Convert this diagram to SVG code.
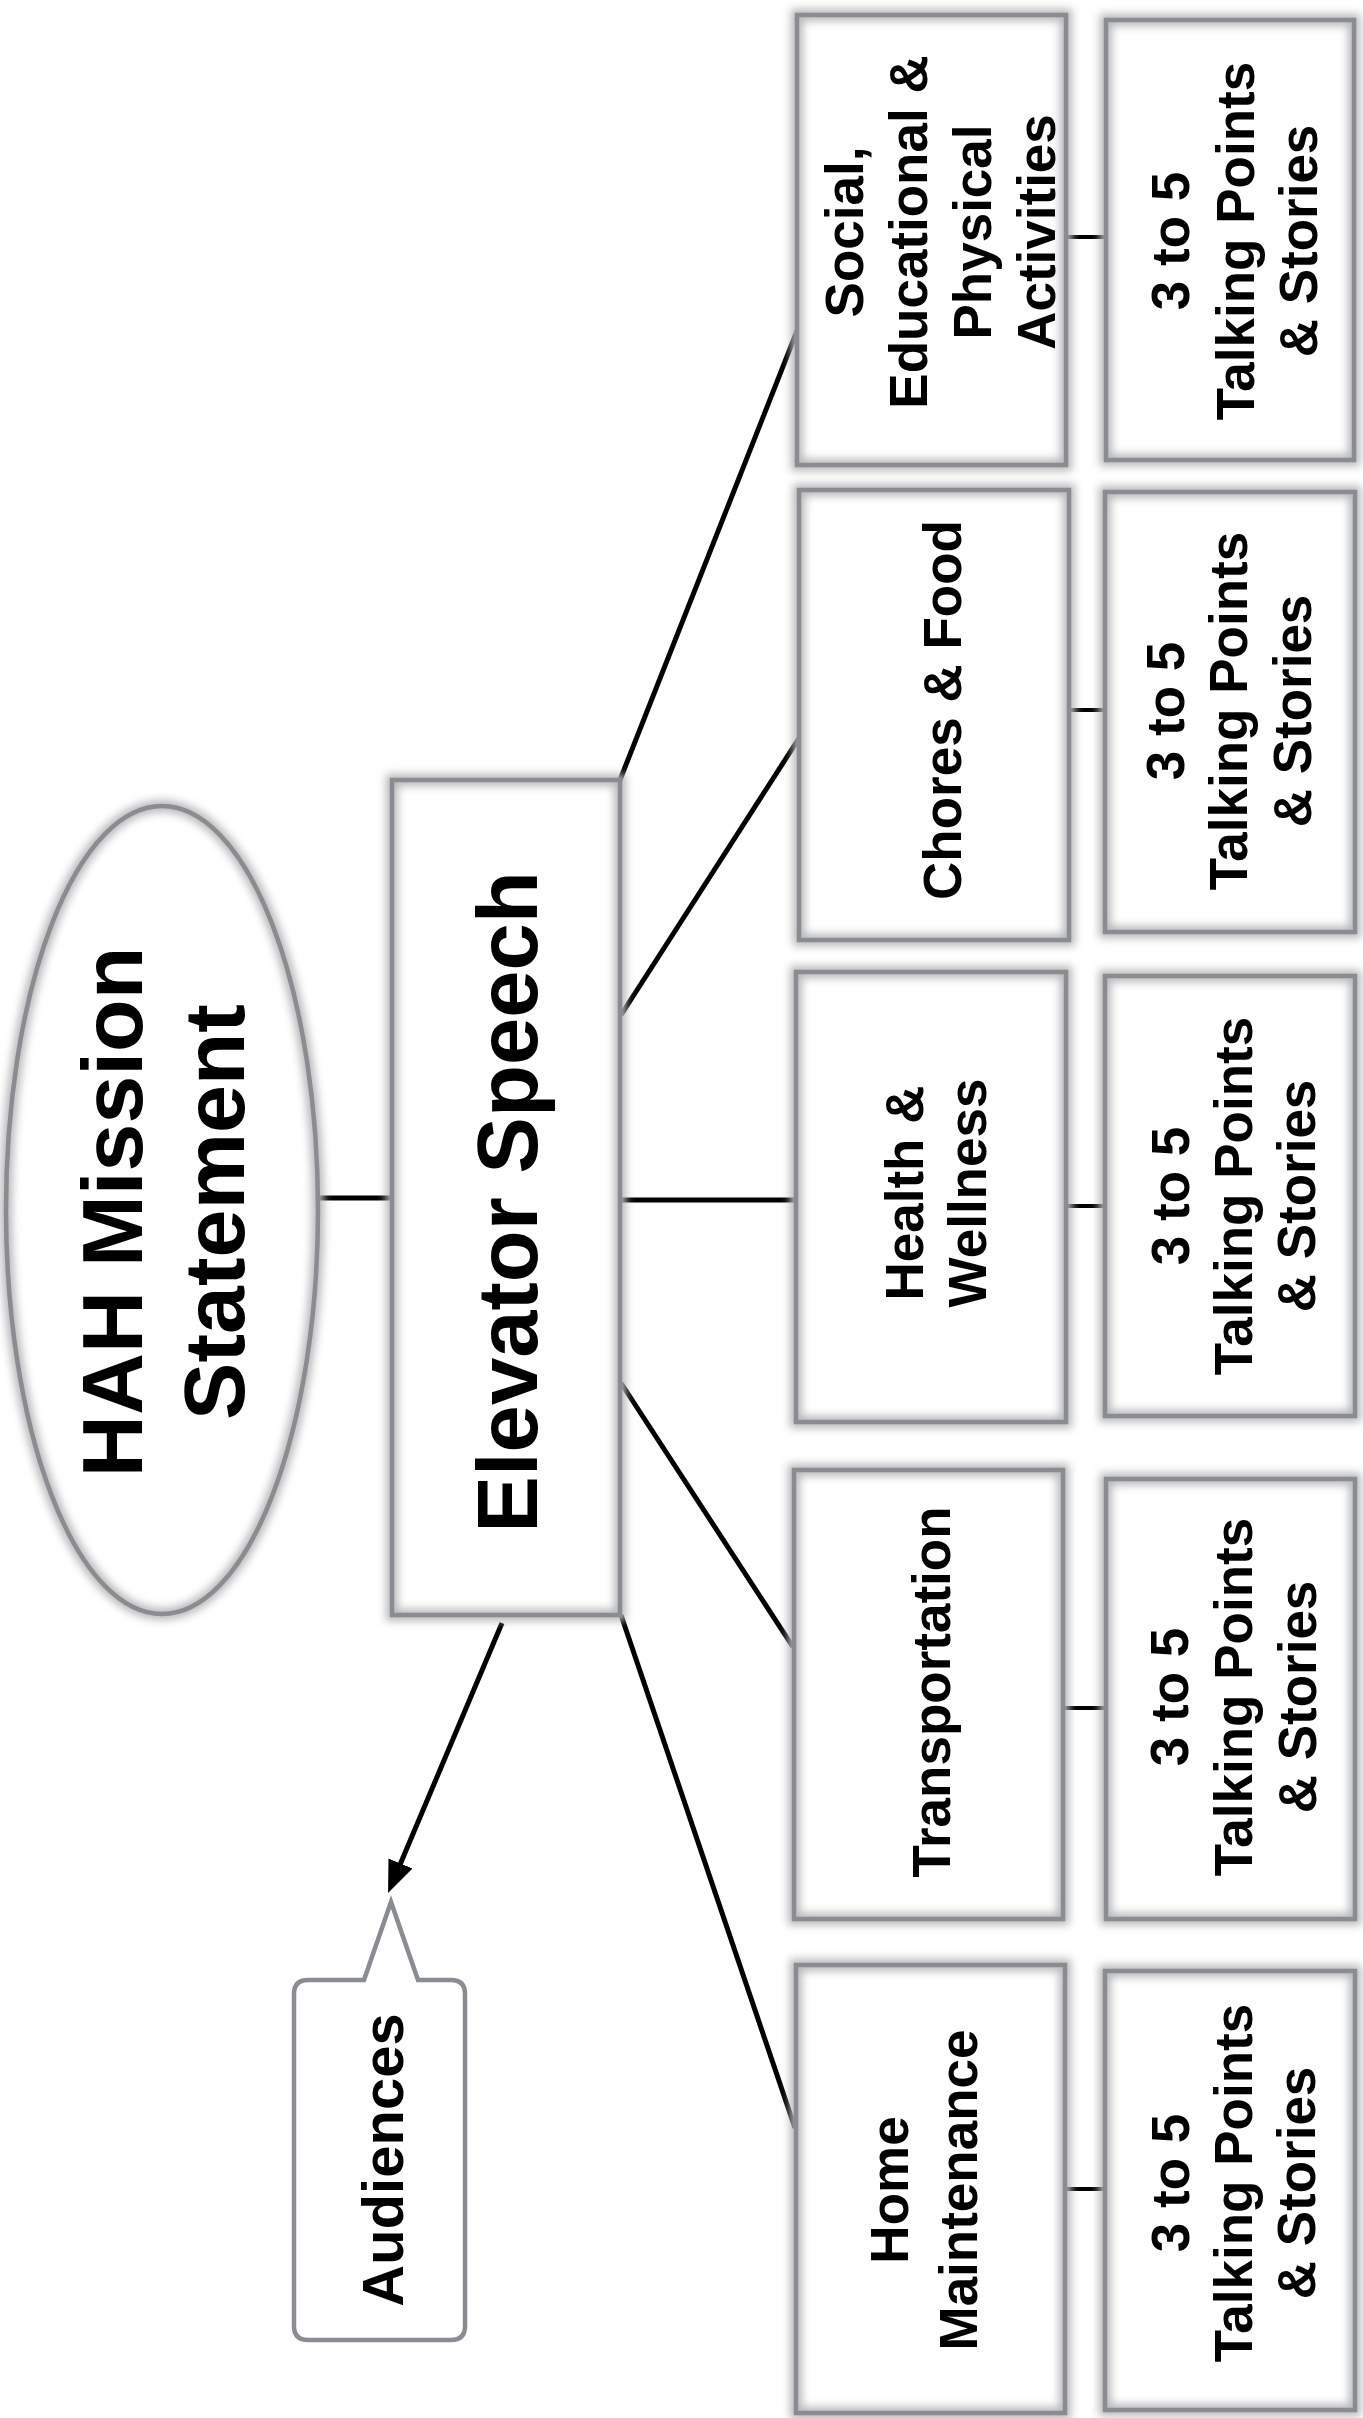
<svg xmlns="http://www.w3.org/2000/svg" width="1363" height="2418" viewBox="0 0 1363 2418">
<style>
.glow{fill:none;stroke:#b8b8b8;stroke-width:12;filter:url(#blur)}
.box{fill:none;stroke:#898c90;stroke-width:4.5}
.bg{fill:#fff;stroke:none}
.t{font-family:"Liberation Sans",Arial,sans-serif;font-weight:bold;fill:#000;text-anchor:middle}
.f53{font-size:53px}
.f86{font-size:86px}
.conn line{stroke:#000;stroke-width:5;stroke-linecap:butt}
.conn .thin{stroke-width:4}
</style>
<defs>
<filter id="blur" x="-20%" y="-20%" width="140%" height="140%"><feGaussianBlur stdDeviation="4"/></filter>
<marker id="arr" markerUnits="userSpaceOnUse" markerWidth="34" markerHeight="28" refX="10" refY="13" orient="auto"><path d="M0,0 L32,13 L0,26 z" fill="#000"/></marker>
</defs>
<rect width="1363" height="2418" fill="#fff"/>

<g id="connectors" class="conn">
<line x1="318" y1="1198" x2="392" y2="1198"/>
<line x1="618" y1="785" x2="797" y2="331"/>
<line x1="621" y1="1015" x2="803" y2="732"/>
<line x1="620" y1="1200" x2="796" y2="1200"/>
<line x1="621" y1="1383" x2="793" y2="1647"/>
<line x1="621" y1="1615" x2="795" y2="2128"/>
<line x1="502" y1="1623" x2="396.6" y2="1872.7" marker-end="url(#arr)"/>
<line class="thin" x1="1066" y1="237" x2="1106" y2="237"/>
<line class="thin" x1="1069" y1="710" x2="1105" y2="710"/>
<line class="thin" x1="1066" y1="1206" x2="1105" y2="1206"/>
<line class="thin" x1="1063" y1="1708" x2="1106" y2="1708"/>
<line class="thin" x1="1065" y1="2189" x2="1105" y2="2189"/>
</g>

<g id="mission">
<ellipse cx="162" cy="1210" rx="156" ry="404" class="bg"/>
<ellipse cx="162" cy="1210" rx="156" ry="404" class="glow"/>
<ellipse cx="162" cy="1210" rx="156" ry="404" class="box"/>
<text class="t f86" transform="translate(0,1212) rotate(-90)"><tspan x="0" y="142">HAH Mission</tspan><tspan x="0" y="244">Statement</tspan></text>
</g>

<g id="elevator">
<rect x="392" y="780" width="228" height="835" class="bg"/>
<rect x="392" y="780" width="228" height="835" class="glow"/>
<rect x="392" y="780" width="228" height="835" class="box"/>
<text class="t" font-size="85" transform="translate(0,1202) rotate(-90)"><tspan x="0" y="537">Elevator Speech</tspan></text>
</g>

<g id="social">
<rect x="797" y="15" width="269" height="450" class="bg"/>
<rect x="797" y="15" width="269" height="450" class="glow"/>
<rect x="797" y="15" width="269" height="450" class="box"/>
<text class="t f53" transform="translate(0,232) rotate(-90)"><tspan x="0" y="863">Social,</tspan><tspan x="0" y="927">Educational &amp;</tspan><tspan x="0" y="991">Physical</tspan><tspan x="0" y="1055">Activities</tspan></text>
</g>

<g id="tp1">
<rect x="1106" y="20" width="248" height="440" class="bg"/>
<rect x="1106" y="20" width="248" height="440" class="glow"/>
<rect x="1106" y="20" width="248" height="440" class="box"/>
<text class="t f53" transform="translate(0,241) rotate(-90)"><tspan x="0" y="1189">3 to 5</tspan><tspan x="0" y="1254">Talking Points</tspan><tspan x="0" y="1317">&amp; Stories</tspan></text>
</g>

<g id="chores">
<rect x="799" y="490" width="270" height="450" class="bg"/>
<rect x="799" y="490" width="270" height="450" class="glow"/>
<rect x="799" y="490" width="270" height="450" class="box"/>
<text class="t f53" transform="translate(0,710) rotate(-90)"><tspan x="0" y="961">Chores &amp; Food</tspan></text>
</g>

<g id="tp2">
<rect x="1105" y="492" width="250" height="440" class="bg"/>
<rect x="1105" y="492" width="250" height="440" class="glow"/>
<rect x="1105" y="492" width="250" height="440" class="box"/>
<text class="t f53" transform="translate(0,711) rotate(-90)"><tspan x="0" y="1184">3 to 5</tspan><tspan x="0" y="1247">Talking Points</tspan><tspan x="0" y="1311">&amp; Stories</tspan></text>
</g>

<g id="health">
<rect x="796" y="972" width="270" height="450" class="bg"/>
<rect x="796" y="972" width="270" height="450" class="glow"/>
<rect x="796" y="972" width="270" height="450" class="box"/>
<text class="t f53" transform="translate(0,1193) rotate(-90)"><tspan x="0" y="923">Health &amp;</tspan><tspan x="0" y="986">Wellness</tspan></text>
</g>

<g id="tp3">
<rect x="1105" y="976" width="250" height="440" class="bg"/>
<rect x="1105" y="976" width="250" height="440" class="glow"/>
<rect x="1105" y="976" width="250" height="440" class="box"/>
<text class="t f53" transform="translate(0,1196) rotate(-90)"><tspan x="0" y="1189">3 to 5</tspan><tspan x="0" y="1252">Talking Points</tspan><tspan x="0" y="1315">&amp; Stories</tspan></text>
</g>

<g id="transportation">
<rect x="794" y="1470" width="269" height="449" class="bg"/>
<rect x="794" y="1470" width="269" height="449" class="glow"/>
<rect x="794" y="1470" width="269" height="449" class="box"/>
<text class="t f53" transform="translate(0,1692) rotate(-90)"><tspan x="0" y="950">Transportation</tspan></text>
</g>

<g id="tp4">
<rect x="1106" y="1479" width="249" height="440" class="bg"/>
<rect x="1106" y="1479" width="249" height="440" class="glow"/>
<rect x="1106" y="1479" width="249" height="440" class="box"/>
<text class="t f53" transform="translate(0,1697) rotate(-90)"><tspan x="0" y="1188">3 to 5</tspan><tspan x="0" y="1252">Talking Points</tspan><tspan x="0" y="1316">&amp; Stories</tspan></text>
</g>

<g id="home">
<rect x="796" y="1965" width="269" height="448" class="bg"/>
<rect x="796" y="1965" width="269" height="448" class="glow"/>
<rect x="796" y="1965" width="269" height="448" class="box"/>
<text class="t f53" transform="translate(0,2190) rotate(-90)"><tspan x="0" y="908">Home</tspan><tspan x="0" y="977">Maintenance</tspan></text>
</g>

<g id="tp5">
<rect x="1105" y="1971" width="250" height="439" class="bg"/>
<rect x="1105" y="1971" width="250" height="439" class="glow"/>
<rect x="1105" y="1971" width="250" height="439" class="box"/>
<text class="t f53" transform="translate(0,2183) rotate(-90)"><tspan x="0" y="1189">3 to 5</tspan><tspan x="0" y="1252">Talking Points</tspan><tspan x="0" y="1315">&amp; Stories</tspan></text>
</g>

<g id="audiences">
<path d="M308 1980 L364 1980 L391 1902 L418 1980 L451 1980 Q465 1980 465 1994 L465 2326 Q465 2340 451 2340 L308 2340 Q294 2340 294 2326 L294 1994 Q294 1980 308 1980 Z" fill="#fff" stroke="#898c90" stroke-width="4.5"/>
<text class="t" font-size="58" transform="translate(0,2160) rotate(-90)"><tspan x="0" y="403">Audiences</tspan></text>
</g>
</svg>
